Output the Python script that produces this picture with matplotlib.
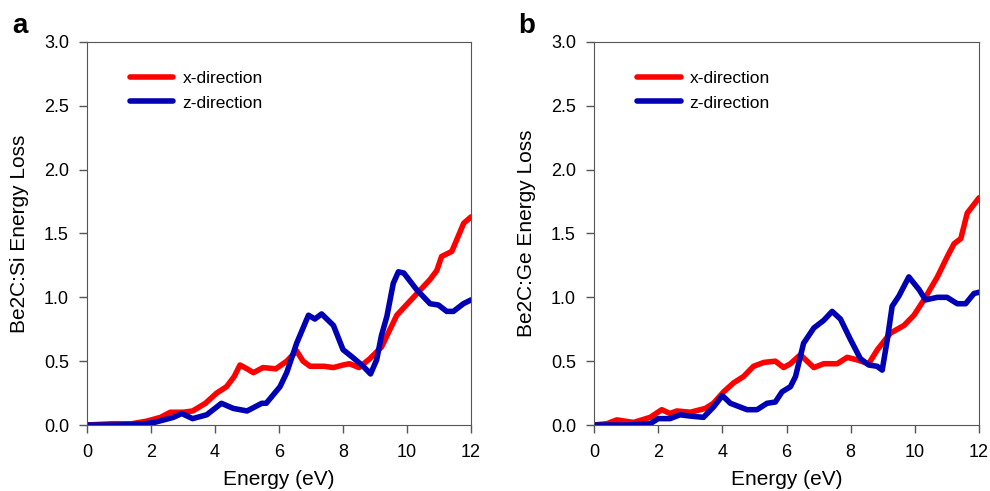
import matplotlib as mpl
mpl.use('Agg')
import matplotlib.pyplot as plt

plt.rcParams['font.family'] = ['Liberation Sans', 'DejaVu Sans']

# panel a: Be2C:Si
si_x_e = [0, 0.8, 1.4, 1.86, 2.3, 2.6, 3.0, 3.3, 3.7, 4.05, 4.36, 4.6, 4.78, 5.0, 5.2, 5.5, 5.9,
          6.24, 6.55, 6.75, 6.97, 7.4, 7.7, 8.0, 8.2, 8.5, 8.84, 9.2, 9.68, 10.2, 10.72, 10.93,
          11.08, 11.4, 11.77, 12.0]
si_x_v = [0, 0.01, 0.01, 0.03, 0.06, 0.1, 0.1, 0.11, 0.17, 0.25, 0.3, 0.38, 0.47, 0.44, 0.41,
          0.45, 0.44, 0.5, 0.58, 0.5, 0.46, 0.46, 0.45, 0.47, 0.48, 0.45, 0.52, 0.61, 0.86, 1.0,
          1.14, 1.21, 1.32, 1.36, 1.58, 1.63]
si_z_e = [0, 1.0, 1.8, 2.1, 2.4, 2.7, 2.96, 3.3, 3.74, 4.2, 4.57, 5.0, 5.46, 5.6, 6.03, 6.24,
          6.55, 6.92, 7.12, 7.33, 7.7, 8.0, 8.3, 8.63, 8.86, 9.05, 9.2, 9.37, 9.57, 9.73, 9.9,
          10.3, 10.72, 10.98, 11.24, 11.45, 11.76, 12.0]
si_z_v = [0, 0, 0.01, 0.02, 0.04, 0.06, 0.09, 0.05, 0.08, 0.17, 0.13, 0.11, 0.17, 0.17, 0.3,
          0.41, 0.64, 0.86, 0.83, 0.87, 0.78, 0.59, 0.53, 0.46, 0.4, 0.51, 0.7, 0.85, 1.11, 1.2,
          1.19, 1.06, 0.95, 0.94, 0.89, 0.89, 0.95, 0.98]

# panel b: Be2C:Ge
ge_x_e = [0, 0.4, 0.71, 1.23, 1.75, 2.11, 2.37, 2.58, 3.0, 3.47, 3.72, 4.04, 4.35, 4.66, 4.97,
          5.29, 5.65, 5.91, 6.12, 6.43, 6.85, 7.16, 7.58, 7.89, 8.2, 8.56, 8.83, 9.24, 9.66,
          9.97, 10.28, 10.7, 11.01, 11.22, 11.43, 11.63, 12.0]
ge_x_v = [0, 0.01, 0.04, 0.02, 0.06, 0.12, 0.09, 0.11, 0.1, 0.13, 0.17, 0.26, 0.33, 0.38, 0.46,
          0.49, 0.5, 0.45, 0.48, 0.55, 0.45, 0.48, 0.48, 0.53, 0.51, 0.48, 0.59, 0.72, 0.78,
          0.86, 0.98, 1.16, 1.32, 1.42, 1.46, 1.66, 1.78]
ge_z_e = [0, 1.0, 1.75, 2.0, 2.37, 2.68, 3.0, 3.41, 3.72, 4.0, 4.25, 4.77, 5.08, 5.39, 5.65,
          5.86, 6.12, 6.28, 6.53, 6.85, 7.16, 7.42, 7.68, 7.99, 8.3, 8.56, 8.82, 8.98, 9.14,
          9.29, 9.5, 9.81, 10.13, 10.33, 10.7, 11.0, 11.32, 11.58, 11.84, 12.0]
ge_z_v = [0, 0, 0.01, 0.05, 0.05, 0.08, 0.07, 0.06, 0.14, 0.23, 0.17, 0.12, 0.12, 0.17, 0.18,
          0.26, 0.3, 0.38, 0.64, 0.76, 0.82, 0.89, 0.83, 0.67, 0.52, 0.47, 0.46, 0.43, 0.67,
          0.93, 1.01, 1.16, 1.06, 0.98, 1.0, 1.0, 0.95, 0.95, 1.03, 1.04]

panels = [
    ('a', 'Be2C:Si Energy Loss', si_x_e, si_x_v, si_z_e, si_z_v, [0.0879, 0.1344, 0.3879, 0.7801], 0.012),
    ('b', 'Be2C:Ge Energy Loss', ge_x_e, ge_x_v, ge_z_e, ge_z_v, [0.6, 0.1344, 0.389, 0.7801], 0.523),
]

fig = plt.figure(figsize=(9.9, 4.91), dpi=100)
for tag, ylab, xe, xv, ze, zv, rect, tx in panels:
    ax = fig.add_axes(rect)
    ax.plot(xe, xv, color='#ff0000', lw=4, label='x-direction', solid_capstyle='round')
    ax.plot(ze, zv, color='#0000b4', lw=4, label='z-direction', solid_capstyle='round')
    ax.set_xlim(0, 12)
    ax.set_ylim(0, 3.0)
    ax.set_xticks(range(0, 13, 2))
    ax.set_yticks([0, 0.5, 1.0, 1.5, 2.0, 2.5, 3.0])
    ax.set_yticklabels(['0.0', '0.5', '1.0', '1.5', '2.0', '2.5', '3.0'])
    ax.tick_params(direction='out', length=6, width=1, color='#555555', labelsize=13)
    ax.tick_params(axis='x', pad=8)
    ax.tick_params(axis='y', pad=7)
    for s in ax.spines.values():
        s.set_color('#555555')
    ax.set_xlabel('Energy (eV)', fontsize=15, labelpad=6)
    ax.set_ylabel(ylab, fontsize=15, labelpad=11)
    ax.legend(loc='upper left', bbox_to_anchor=(0.112, 0.925), frameon=False, fontsize=12.5,
              handlelength=2.5, handletextpad=0.52, labelspacing=0.55,
              borderpad=0, borderaxespad=0)
    fig.text(tx, 0.947, tag, fontsize=20, fontweight='bold', va='center')

plt.savefig('out.png', dpi=100)
plt.close()
